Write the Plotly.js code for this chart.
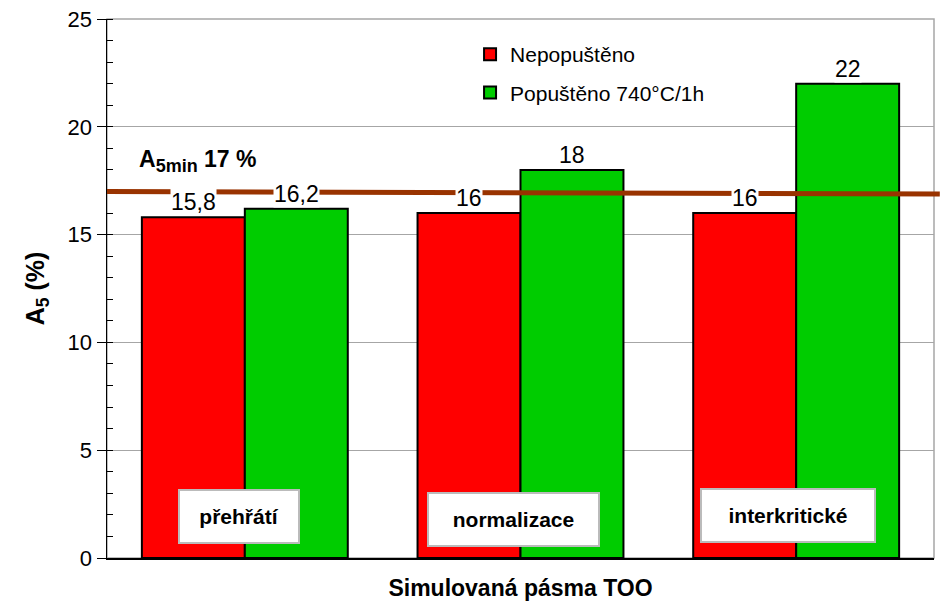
<!DOCTYPE html>
<html>
<head>
<meta charset="utf-8">
<script src="https://cdn.plot.ly/plotly-3.0.1.min.js"></script>
<style>html,body{margin:0;padding:0;background:#fff;}#chart{width:944px;height:616px;}</style>
</head>
<body>
<div id="chart"></div>
<script>
const categories = ["přehřátí", "normalizace", "interkritické"];
const seriesNames = ["Nepopuštěno", "Popuštěno 740°C/1h"];
const nepopusteno = [15.8, 16, 16];
const popusteno = [16.2, 18, 22];
const A5min = 17;
const A5minLabel = "A<sub><span style=\"font-size:18px\">5min</span></sub> 17 %";
const yTicks = [0, 5, 10, 15, 20, 25];

const FONT = "Arial, 'Liberation Sans', sans-serif";
const fmt = v => String(v).replace('.', ',');

const traces = [
  {type: 'bar', name: seriesNames[0], x: categories, y: nepopusteno, legendgroup: 'a',
   marker: {color: '#FF0000', line: {color: '#000', width: 2}}, offsetgroup: 0, hoverinfo: 'none'},
  {type: 'bar', name: seriesNames[1], x: categories, y: popusteno, legendgroup: 'b',
   marker: {color: '#00CC00', line: {color: '#000', width: 2}}, offsetgroup: 1, hoverinfo: 'none'}
];

const annotations = [];
[nepopusteno, popusteno].forEach((arr, s) => {
  arr.forEach((v, i) => {
    annotations.push({
      x: i, y: v, xref: 'x', yref: 'y', xshift: s === 0 ? -51.5 : 51.5,
      text: fmt(v), showarrow: false, yanchor: 'bottom', yshift: 1,
      font: {family: FONT, size: 23, color: '#000'},
      bgcolor: '#fff', borderpad: 0
    });
  });
});
// category boxes
const boxOffsets = [-6, -7, -8];
const boxCenters = [516, 519, 515];
categories.forEach((c, i) => {
  annotations.push({
    x: i, y: 1 - (boxCenters[i] - 19) / 539, xref: 'x', yref: 'paper', xshift: boxOffsets[i],
    text: '<b>' + c + '</b>', showarrow: false, yanchor: 'middle',
    font: {family: FONT, size: 21, color: '#000'},
    bgcolor: '#fff', bordercolor: '#BBBBBB', borderwidth: 2, borderpad: 0,
    width: [118, 169, 172][i], height: 51
  });
});
annotations.push({
  x: 0.036, y: A5min, xref: 'paper', yref: 'y', yshift: 30, xanchor: 'left',
  text: '<b>' + A5minLabel + '</b>', showarrow: false,
  font: {family: FONT, size: 23, color: '#000'}
});

const layout = {
  width: 944, height: 616,
  margin: {l: 107, r: 10, t: 19, b: 58},
  paper_bgcolor: '#fff', plot_bgcolor: '#fff',
  font: {family: FONT, size: 20, color: '#000'},
  barmode: 'group', bargap: 0.253, bargroupgap: 0,
  showlegend: true,
  legend: {x: 0.439, y: 0.972, xanchor: 'left', yanchor: 'top', bgcolor: 'rgba(0,0,0,0)',
           font: {family: FONT, size: 21, color: '#000'}, tracegroupgap: 8, traceorder: 'grouped',
           itemwidth: 30},
  xaxis: {showticklabels: false, ticks: '', showline: true, linecolor: '#000', linewidth: 1.5,
          showgrid: false, zeroline: false,
          title: {text: '<b>Simulovaná pásma TOO</b>', font: {family: FONT, size: 23, color: '#000'}, standoff: 21}},
  yaxis: {range: [0, 25], tickvals: yTicks, ticktext: yTicks.map(String), ticks: 'outside', ticklen: 9,
          tickcolor: '#000', tickwidth: 1, showline: true, linecolor: '#000', linewidth: 1.5,
          showgrid: true, gridcolor: '#A6A6A6', gridwidth: 1, zeroline: false,
          tickfont: {family: FONT, size: 22, color: '#000'},
          minor: {dtick: 1, ticks: 'inside', ticklen: 6, tickcolor: '#000', showgrid: false},
          title: {text: '<b>A<sub>5</sub> (%)</b>', font: {family: FONT, size: 25, color: '#000'}, standoff: 16}},
  shapes: [
    {type: 'rect', xref: 'paper', yref: 'paper', x0: 0, x1: 1, y0: 0, y1: 1,
     line: {color: '#A6A6A6', width: 1.5}, layer: 'below'},
    {type: 'line', xref: 'paper', yref: 'y', x0: 0, x1: 1.007, y0: A5min, y1: A5min - 0.12,
     line: {color: '#993300', width: 5}, layer: 'above'}
  ],
  annotations: annotations
};

Plotly.newPlot('chart', traces, layout, {displayModeBar: false, staticPlot: true});
</script>
</body>
</html>
